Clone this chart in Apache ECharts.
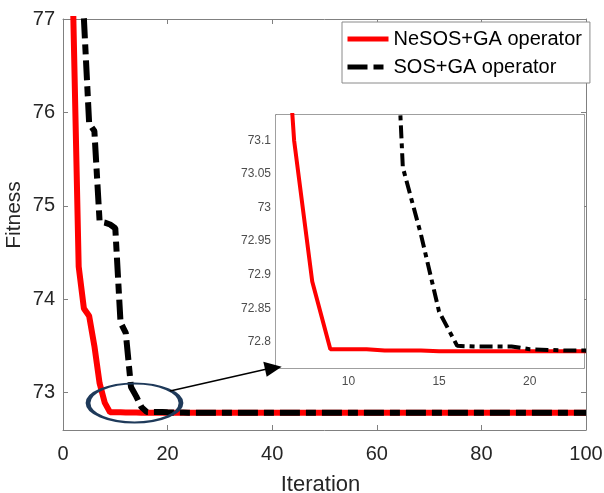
<!DOCTYPE html>
<html><head><meta charset="utf-8">
<script src="https://cdn.jsdelivr.net/npm/echarts@6/dist/echarts.min.js"></script>
<style>html,body{margin:0;padding:0;background:#fff}#c{width:604px;height:493px}</style>
</head><body><div id="c"></div>
<script>
// ---- data ----
const iterations = [1,2,3,4,5,6,7,8,9,10,11,12,13,14,15,16,17,18,19,20,21,22,23,24,25,30,40,50,60,70,80,90,100];
const nesosGA = [80.0,76.95,74.35,73.9,73.82,73.5,73.1,72.89,72.789,72.789,72.789,72.787,72.787,72.787,72.786,72.786,72.786,72.786,72.786,72.786,72.786,72.786,72.786,72.786,72.786,72.786,72.785,72.785,72.785,72.785,72.785,72.785,72.785];
const sosGA   = [81.5,80.5,79.0,77.0,75.88,75.8,74.83,74.82,74.8,74.76,73.75,73.64,73.06,72.96,72.845,72.794,72.793,72.793,72.793,72.789,72.788,72.787,72.787,72.786,72.786,72.786,72.786,72.786,72.786,72.786,72.786,72.786,72.786];
const seriesNames = ['NeSOS+GA operator','SOS+GA operator'];
const mainYTicks = [73,74,75,76,77];
const insetXTicks = [10,15,20];
const insetYTicks = [72.8,72.85,72.9,72.95,73,73.05,73.1];

const FONT = 'Liberation Sans, Arial, sans-serif';
const AXC = '#808080';
function pairs(ys){ return iterations.map((x,i)=>[x, ys[i]]); }
function fmt(v){ return String(parseFloat(Number(v).toFixed(3))); }

const chart = echarts.init(document.getElementById('c'), null, {renderer:'canvas'});

function mirrorAxis(base, pos){
  return Object.assign({}, base, {position:pos, name:'', axisLabel:Object.assign({}, base.axisLabel, {show:false})});
}

const mainX = {type:'value', gridIndex:0, min:0, max:100, interval:20,
  name:'Iteration', nameLocation:'middle', nameGap:44, nameMoveOverlap:false,
  nameTextStyle:{fontSize:22, color:'#262626', fontFamily:FONT, padding:[0,8,0,0]},
  axisLine:{show:true, onZero:false, lineStyle:{color:AXC, width:1}},
  axisTick:{show:true, inside:true, length:5, lineStyle:{color:AXC}},
  axisLabel:{fontSize:20, color:'#262626', fontFamily:FONT, margin:14},
  splitLine:{show:false}};
const mainY = {type:'value', gridIndex:0, min:72.6, max:77,
  name:'Fitness', nameLocation:'middle', nameGap:38, nameMoveOverlap:false,
  nameTextStyle:{fontSize:21, color:'#262626', fontFamily:FONT, padding:[0,0,0,19]},
  axisLine:{show:true, onZero:false, lineStyle:{color:AXC, width:1}},
  axisTick:{show:true, inside:true, length:5, customValues:mainYTicks, lineStyle:{color:AXC}},
  axisLabel:{fontSize:20, color:'#262626', fontFamily:FONT, margin:8, customValues:mainYTicks},
  splitLine:{show:false}};
const insetX = {type:'value', gridIndex:1, min:6, max:23,
  axisLine:{show:true, onZero:false, lineStyle:{color:AXC, width:1.5}},
  axisTick:{show:true, inside:true, length:4, customValues:insetXTicks, lineStyle:{color:AXC}},
  axisLabel:{fontSize:12, color:'#4d4d4d', fontFamily:FONT, margin:8, customValues:insetXTicks},
  splitLine:{show:false}};
const insetY = {type:'value', gridIndex:1, min:72.761, max:73.138,
  axisLine:{show:true, onZero:false, lineStyle:{color:AXC, width:1.5}},
  axisTick:{show:true, inside:true, length:4, customValues:insetYTicks, lineStyle:{color:AXC}},
  axisLabel:{fontSize:12, color:'#4d4d4d', fontFamily:FONT, margin:5, customValues:insetYTicks, formatter:fmt},
  splitLine:{show:false}};

const option = {
  backgroundColor:'#fff',
  animation:false,
  grid:[
    {left:63, top:19, right:18, bottom:63, outerBoundsMode:'none', containLabel:false},
    {left:276, top:115, right:20, bottom:125, outerBoundsMode:'none', containLabel:false,
      show:true, backgroundColor:'#fff', borderWidth:0, z:5}
  ],
  xAxis:[mainX, mirrorAxis(mainX,'top'), insetX, mirrorAxis(insetX,'top')],
  yAxis:[mainY, mirrorAxis(mainY,'right'), insetY, mirrorAxis(insetY,'right')],
  legend:{
    data:seriesNames, orient:'vertical', left:342, top:22,
    padding:[7,8,6,3], itemWidth:41, itemHeight:14, itemGap:8,
    backgroundColor:'#fff', borderColor:'#8a8a8a', borderWidth:1, borderRadius:0,
    itemStyle:{opacity:0, borderWidth:0},
    lineStyle:{width:5},
    textStyle:{fontSize:20, color:'#000', fontFamily:FONT}, selectedMode:false
  },
  series:[
    {name:seriesNames[0], type:'line', xAxisIndex:0, yAxisIndex:0, data:pairs(nesosGA),
      symbol:'none', showSymbol:false, z:2, lineStyle:{color:'#ff0000', width:6}, itemStyle:{color:'#ff0000'}},
    {name:seriesNames[1], type:'line', xAxisIndex:0, yAxisIndex:0, data:pairs(sosGA),
      symbol:'none', showSymbol:false, z:3, lineStyle:{color:'#000', width:6, type:[20,6,10,6]}, itemStyle:{color:'#000'}},
    {name:seriesNames[0], type:'line', xAxisIndex:2, yAxisIndex:2, data:pairs(nesosGA),
      symbol:'none', showSymbol:false, z:6, lineStyle:{color:'#ff0000', width:4}, itemStyle:{color:'#ff0000'}},
    {name:seriesNames[1], type:'line', xAxisIndex:2, yAxisIndex:2, data:pairs(sosGA),
      symbol:'none', showSymbol:false, z:7, lineStyle:{color:'#000', width:4, type:[13,5,5,5]}, itemStyle:{color:'#000'}}
  ],
  graphic:[
    {type:'circle', x:134.5, y:403, scaleX:46.5/19.5, shape:{cx:0, cy:0, r:19.5}, z:100,
      style:{fill:'none', stroke:'#1f3a5a', lineWidth:2, strokeNoScale:true}},
    {type:'line', shape:{x1:170, y1:391, x2:267, y2:369}, z:100, style:{stroke:'#000', lineWidth:1.5}},
    {type:'polygon', shape:{points:[[263.3,361.7],[266.7,376.7],[281.7,366.7]]}, z:100, style:{fill:'#000'}}
  ]
};
chart.setOption(option);
</script></body></html>
